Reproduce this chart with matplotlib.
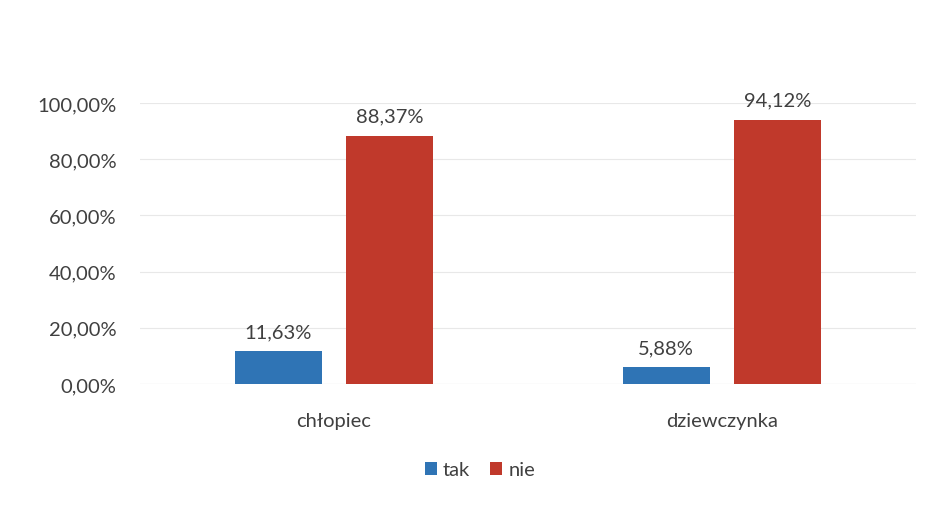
import numpy as np
import matplotlib.pyplot as plt
from matplotlib.ticker import FuncFormatter

plt.rcParams['font.family'] = ['Lato', 'DejaVu Sans']

categories = ['chłopiec', 'dziewczynka']
series_names = ['tak', 'nie']
tak = [11.63, 5.88]
nie = [88.37, 94.12]
colors = ['#2f74b5', '#c0392b']

fig = plt.figure(figsize=(9.34, 5.06), dpi=100)
ax = fig.add_axes([140 / 934, 1 - 385 / 506, (916 - 140) / 934, (385 - 104) / 506])

x = np.arange(len(categories))
w = 0.224
off = 0.144
b1 = ax.bar(x - off, tak, w, color=colors[0], label=series_names[0], zorder=3)
b2 = ax.bar(x + off, nie, w, color=colors[1], label=series_names[1], zorder=3)

fs = 14.5
for bars in (b1, b2):
    for r in bars:
        v = r.get_height()
        ax.text(r.get_x() + r.get_width() / 2, v + 4, f'{v:.2f}%'.replace('.', ','),
                ha='center', va='bottom', fontsize=fs, color='#404040')

ax.set_xlim(-0.5, 1.5)
ax.set_ylim(0, 100)
ax.set_yticks(np.arange(0, 101, 20))
ax.yaxis.set_major_formatter(FuncFormatter(lambda v, p: f'{v:.2f}%'.replace('.', ',')))
ax.set_xticks(x)
ax.set_xticklabels(categories)
ax.tick_params(axis='both', length=0, labelsize=fs, colors='#404040')
ax.tick_params(axis='x', pad=20)
ax.tick_params(axis='y', pad=17)
ax.grid(axis='y', color='#e8e8e8', linewidth=0.8, zorder=0)
for s in ax.spines.values():
    s.set_visible(False)
ax.axhline(0, color='#d9d9d9', linewidth=0.8, zorder=2)

fig.legend(loc='center', bbox_to_anchor=(480 / 934, 1 - 471 / 506), ncol=2, frameon=False,
           fontsize=fs, handlelength=0.6, handleheight=0.6, handletextpad=0.3,
           columnspacing=1.0, labelcolor='#404040')

fig.savefig('out.png', dpi=100)
